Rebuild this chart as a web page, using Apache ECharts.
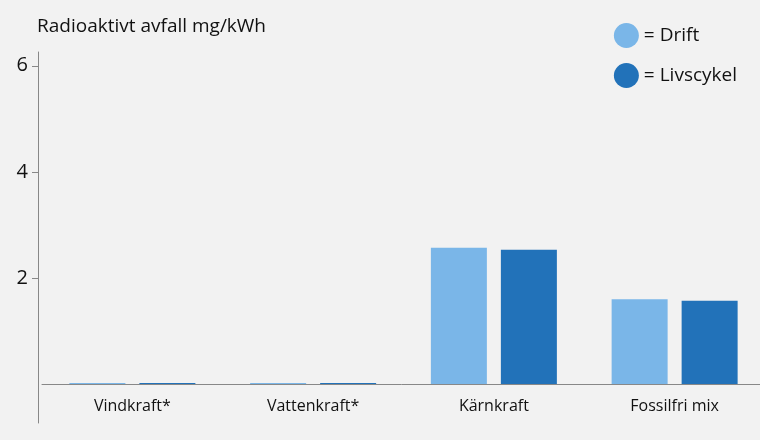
<!DOCTYPE html><html><head><meta charset="utf-8"><script src="https://cdn.jsdelivr.net/npm/echarts@6/dist/echarts.min.js"></script></head>
<body style="margin:0;background:#f2f2f2"><div id="c" style="width:760px;height:440px"></div><script>
const categories=['Vindkraft*','Vattenkraft*','Kärnkraft','Fossilfri mix'];
const drift=[0.02,0.02,2.57,1.6];
const livscykel=[0.02,0.02,2.53,1.57];
const yTicks=[2,4,6];
const F='Open Sans';
const c=echarts.init(document.getElementById('c'));
c.setOption({backgroundColor:'#f2f2f2',animation:false,
title:{text:'Radioaktivt avfall mg/kWh',left:32,top:12,textStyle:{fontFamily:F,fontWeight:'normal',fontSize:19,color:'#111'}},
legend:{orient:'vertical',right:18,top:18,itemGap:15,icon:'circle',itemWidth:25,itemHeight:25,
 formatter:n=>'= '+n,textStyle:{fontFamily:F,fontSize:19,color:'#111'}},
grid:[{left:42,right:-5,top:52,bottom:56,outerBoundsMode:'none'},
      {left:38,right:0,top:384,bottom:17,outerBoundsMode:'none'}],
xAxis:[{type:'category',data:categories,axisLine:{lineStyle:{color:'#888'}},axisTick:{show:false},
 axisLabel:{fontFamily:F,fontSize:16,color:'#111',margin:14}},
 {gridIndex:1,type:'value',show:false}],
yAxis:[{type:'value',min:0,max:6.26,splitLine:{show:false},
 axisLine:{show:true,lineStyle:{color:'#888'}},offset:4,
 axisTick:{show:true,length:6,customValues:yTicks,lineStyle:{color:'#888'}},
 axisLabel:{customValues:yTicks,fontFamily:F,fontSize:20,color:'#111',margin:10}},
 {gridIndex:1,type:'value',axisLine:{show:true,lineStyle:{color:'#888'}},axisTick:{show:false},axisLabel:{show:false},splitLine:{show:false}}],
series:[{name:'Drift',type:'bar',data:drift,barWidth:56,barGap:'25%',itemStyle:{color:'#7ab6e8'}},
{name:'Livscykel',type:'bar',data:livscykel,barWidth:56,itemStyle:{color:'#2272b9'}}]});
</script></body></html>
